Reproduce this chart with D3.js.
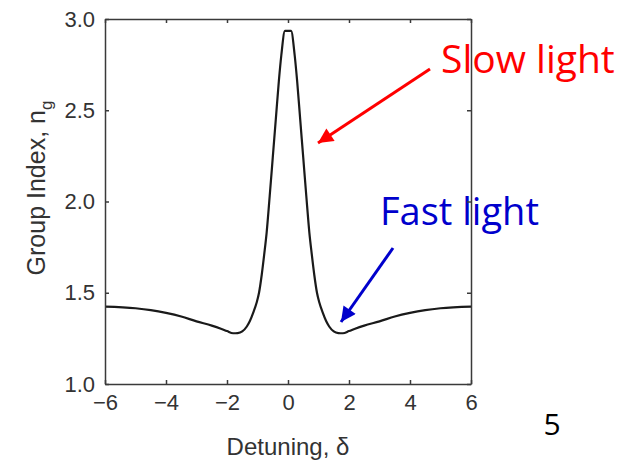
<!DOCTYPE html>
<html>
<head>
<meta charset="utf-8">
<script src="https://cdn.jsdelivr.net/npm/d3@7"></script>
<style>
  body { margin: 0; background: #fff; }
  svg { display: block; }
</style>
</head>
<body>
<div class="container"></div>
<script>
// group index curve
const detuning = [-6, -5, -4.5, -4, -3.5, -3, -2.5, -2.2, -2, -1.8, -1.65, -1.5, -1.35, -1.25, -1.13, -1.03, -0.95, -0.86, -0.78, -0.7,
    -0.6, -0.5, -0.4, -0.3, -0.22, -0.1, 0, 0.1, 0.22, 0.3, 0.4, 0.5, 0.6,
    0.7, 0.78, 0.86, 0.95, 1.03, 1.13, 1.25, 1.35, 1.5, 1.65, 1.8, 2, 2.2, 2.5, 3, 3.5, 4, 4.5, 5, 6];
const groupIndex = [1.424, 1.415, 1.405, 1.39, 1.37, 1.343, 1.32, 1.303, 1.29, 1.278, 1.279, 1.288, 1.315, 1.345, 1.395, 1.445, 1.5, 1.6, 1.71, 1.83,
    2.03, 2.24, 2.45, 2.66, 2.8, 2.935, 2.935, 2.935, 2.8, 2.66, 2.45, 2.24, 2.03,
    1.83, 1.71, 1.6, 1.5, 1.445, 1.395, 1.345, 1.315, 1.288, 1.279, 1.278, 1.29, 1.303, 1.32, 1.343, 1.37, 1.39, 1.405, 1.415, 1.424];
const xTicks = [-6, -4, -2, 0, 2, 4, 6];
const yTicks = [1.0, 1.5, 2.0, 2.5, 3.0];

const w = 624, h = 460;
const m = { left: 105, right: 471, top: 19, bottom: 384 };

const xScale = d3.scaleLinear().domain([-6, 6]).range([m.left, m.right]);
const yScale = d3.scaleLinear().domain([1, 3]).range([m.bottom, m.top]);

const svg = d3.select(".container").append("svg")
    .attr("width", w).attr("height", h);

const axisColor = "#3a3a3a";
const tickFont = "Liberation Sans, Arial, sans-serif";

// annotations sit under the frame
svg.append("text")
    .attr("x", 441).attr("y", 73)
    .attr("fill", "#ff0000")
    .style("font-family", "Open Sans, sans-serif")
    .style("font-size", "39px")
    .text("Slow light");

svg.append("text")
    .attr("x", 380).attr("y", 225)
    .attr("fill", "#0000cc")
    .style("font-family", "Open Sans, sans-serif")
    .style("font-size", "38px")
    .text("Fast light");

svg.append("text")
    .attr("x", 552).attr("y", 435)
    .attr("text-anchor", "middle")
    .attr("fill", "#000")
    .style("font-family", "Open Sans, sans-serif")
    .style("font-size", "30px")
    .text("5");

// arrows
const defs = svg.append("defs");
const marker = (id, color) => defs.append("marker")
    .attr("id", id)
    .attr("viewBox", "0 0 10 10")
    .attr("refX", 10).attr("refY", 5)
    .attr("markerWidth", 6).attr("markerHeight", 5)
    .attr("markerUnits", "strokeWidth")
    .attr("orient", "auto")
    .append("path")
    .attr("d", "M0,0 L10,5 L0,10 Z")
    .attr("fill", color);
marker("arrRed", "#ff0000");
marker("arrBlue", "#0000cc");

svg.append("line")
    .attr("x1", 430).attr("y1", 69).attr("x2", 318).attr("y2", 143)
    .attr("stroke", "#ff0000").attr("stroke-width", 3)
    .attr("marker-end", "url(#arrRed)");

svg.append("line")
    .attr("x1", 393).attr("y1", 248).attr("x2", 341).attr("y2", 322)
    .attr("stroke", "#0000cc").attr("stroke-width", 3)
    .attr("marker-end", "url(#arrBlue)");

// curve
const line = d3.line()
    .x((d, i) => xScale(detuning[i]))
    .y((d) => yScale(d))
    .curve(d3.curveMonotoneX);

svg.append("path")
    .datum(groupIndex)
    .attr("d", line)
    .attr("fill", "none")
    .attr("stroke", "#1a1a1a")
    .attr("stroke-width", 2.2);

// axes, ticks inward
const xAxis = d3.axisBottom(xScale).tickValues(xTicks).tickSizeInner(-4).tickSizeOuter(0)
    .tickPadding(10).tickFormat((d) => d3.format("d")(d).replace("-", "\u2212"));
const gx = svg.append("g")
    .attr("id", "x-axis")
    .attr("transform", `translate(0, ${m.bottom})`)
    .call(xAxis);

const yAxis = d3.axisLeft(yScale).tickValues(yTicks).tickSizeInner(-4).tickSizeOuter(0)
    .tickPadding(10).tickFormat(d3.format(".1f"));
const gy = svg.append("g")
    .attr("id", "y-axis")
    .attr("transform", `translate(${m.left}, 0)`)
    .call(yAxis);

const xTop = svg.append("g")
    .attr("transform", `translate(0, ${m.top})`)
    .call(d3.axisTop(xScale).tickValues(xTicks).tickSizeInner(-4).tickSizeOuter(0).tickFormat(""));
const yRight = svg.append("g")
    .attr("transform", `translate(${m.right}, 0)`)
    .call(d3.axisRight(yScale).tickValues(yTicks).tickSizeInner(-4).tickSizeOuter(0).tickFormat(""));

[gx, gy, xTop, yRight].forEach((g) => {
    g.selectAll("path, line").attr("stroke", axisColor).attr("stroke-width", 1.5);
    g.selectAll("text")
        .attr("fill", "#333")
        .style("font-family", tickFont)
        .style("font-size", "22px");
});

// axis titles
svg.append("text")
    .attr("x", 288).attr("y", 455)
    .attr("text-anchor", "middle")
    .attr("fill", "#333")
    .style("font-family", tickFont)
    .style("font-size", "24px")
    .text("Detuning, \u03b4");

const yl = svg.append("text")
    .attr("transform", "translate(45, 188) rotate(-90)")
    .attr("text-anchor", "middle")
    .attr("fill", "#333")
    .style("font-family", tickFont)
    .style("font-size", "25px");
yl.append("tspan").text("Group Index,  n");
yl.append("tspan").attr("dy", 7).style("font-size", "17px").text("g");
</script>
</body>
</html>
